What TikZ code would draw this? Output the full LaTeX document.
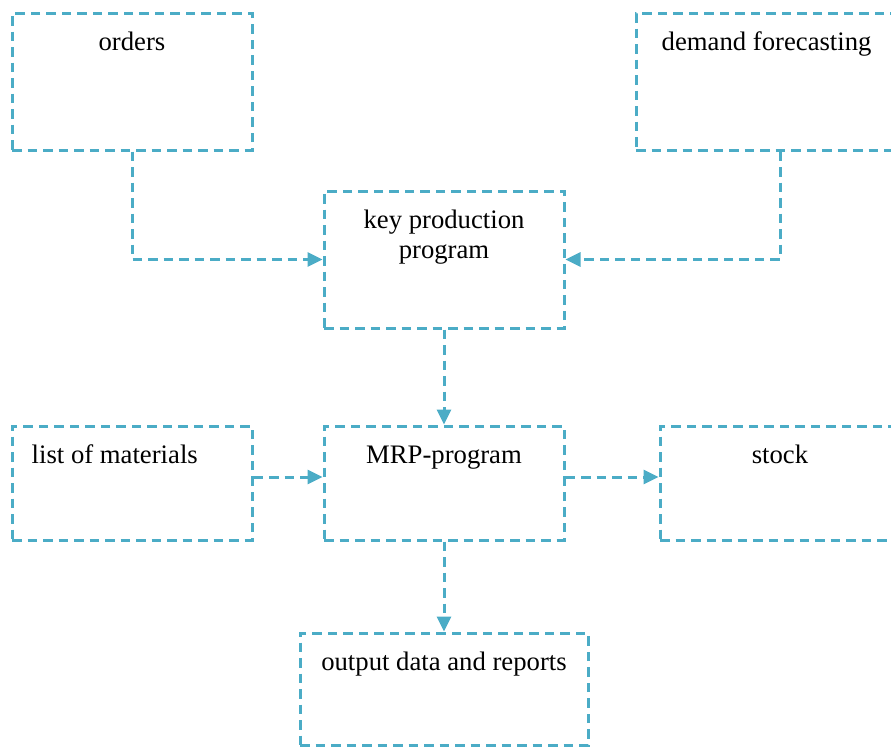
\documentclass[tikz,border=0pt]{standalone}
\usepackage{fontspec}
\setmainfont{Liberation Serif}
\usetikzlibrary{arrows.meta,positioning}
\definecolor{teal}{HTML}{4BACC6}
\tikzset{
  box/.style={draw=teal, line width=3pt, dash pattern=on 9.5pt off 6pt, rectangle, inner sep=0pt},
  lbl/.style={font=\fontsize{26.7}{30}\selectfont, inner sep=0pt, text=black},
  conn/.style={draw=teal, line width=3pt, dash pattern=on 9.5pt off 6pt, -{Triangle[length=15pt,width=14pt]}}
}
\begin{document}
\begin{tikzpicture}[x=1pt,y=-1pt]
\useasboundingbox (0,0) rectangle (891,747);
% boxes
\node[box, minimum width=240pt, minimum height=137pt] (orders) at (132,81.5) {};
\node[box, minimum width=288pt, minimum height=137pt] (demand) at (780,81.5) {};
\node[box, minimum width=240pt, minimum height=137pt] (key) at (444,259.5) {};
\node[box, minimum width=240pt, minimum height=114pt] (list) at (132,483) {};
\node[box, minimum width=240pt, minimum height=114pt] (mrp) at (444,483) {};
\node[box, minimum width=240pt, minimum height=114pt] (stock) at (780,483) {};
\node[box, minimum width=288pt, minimum height=112pt] (output) at (444,689) {};
% texts
\node[lbl, anchor=base] (torders) at ([yshift=-39pt]orders.north) {orders};
\node[lbl, anchor=base west] (tdemand) at ([yshift=-39pt,xshift=27pt]demand.north west) {demand forecasting};
\node[lbl, anchor=base, align=center] (tkey) at ([yshift=-69pt]key.north) {key production\\program};
\node[lbl, anchor=base west] (tlist) at ([yshift=-39pt,xshift=21pt]list.north west) {list of materials};
\node[lbl, anchor=base] (tmrp) at ([yshift=-39pt]mrp.north) {MRP-program};
\node[lbl, anchor=base] (tstock) at ([yshift=-39pt]stock.north) {stock};
\node[lbl, anchor=base] (toutput) at ([yshift=-39pt]output.north) {output data and reports};
% connectors
\coordinate (midrow) at (0,477);
\draw[conn] (orders.south) |- (key.west);
\draw[conn] (demand.south) |- (key.east);
\draw[conn] (key.south) -- (mrp.north);
\draw[conn] (list.east |- midrow) -- (mrp.west |- midrow);
\draw[conn] (mrp.east |- midrow) -- (stock.west |- midrow);
\draw[conn] (mrp.south) -- (output.north);
\end{tikzpicture}
\end{document}
